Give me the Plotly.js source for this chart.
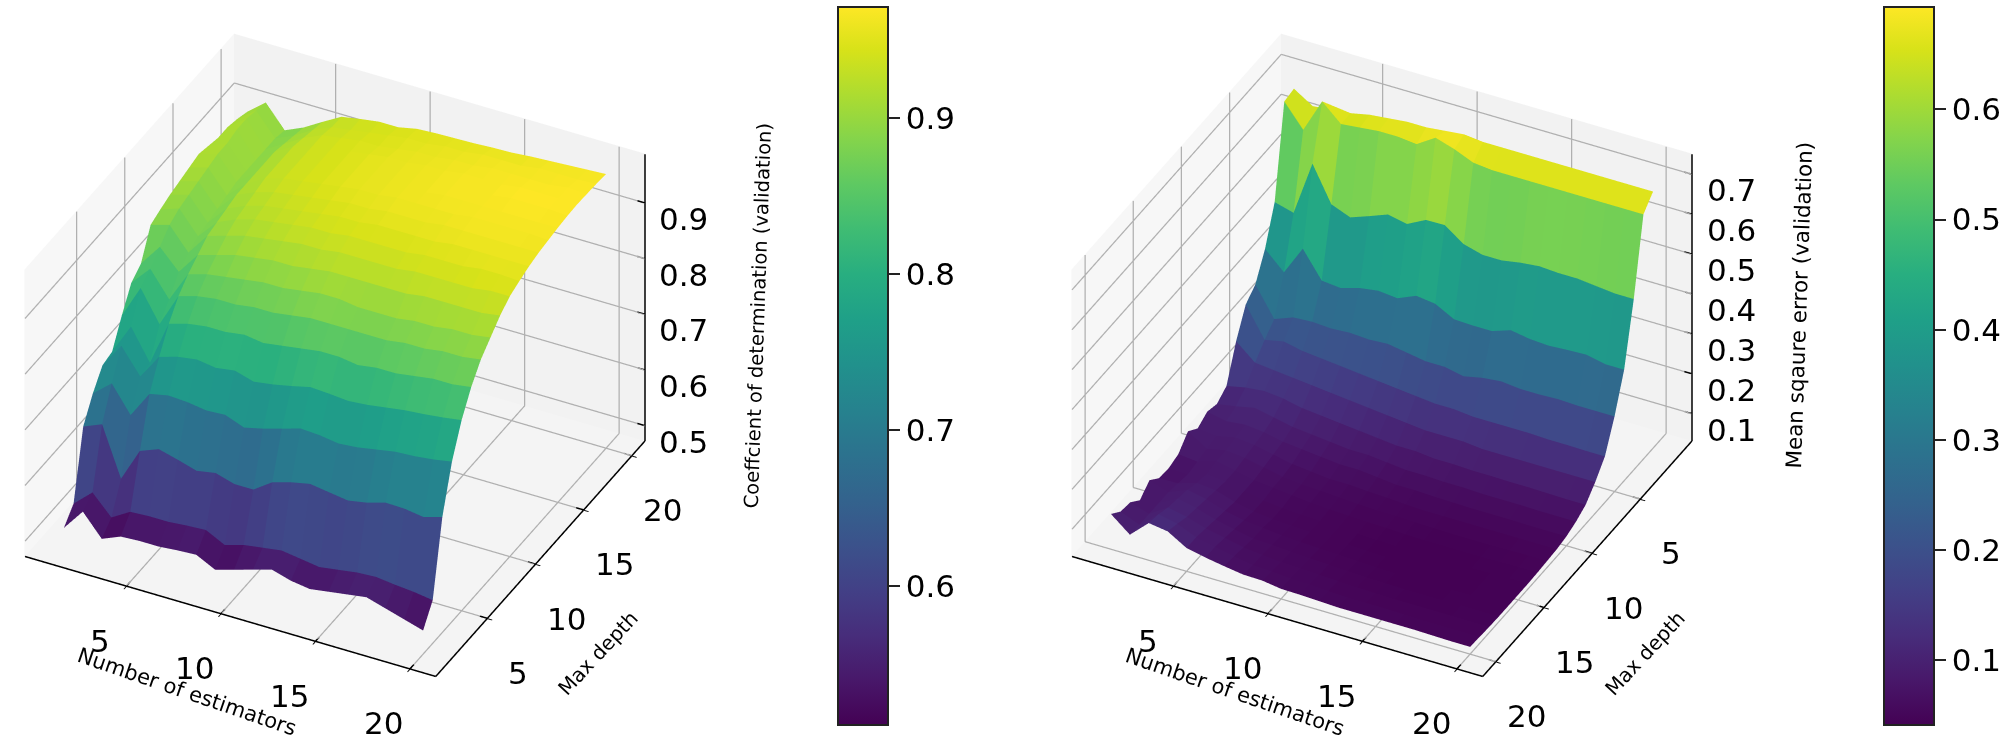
<!DOCTYPE html>
<html><head><meta charset="utf-8">
<script src="https://cdn.plot.ly/plotly-3.0.1.min.js"></script>
<style>html,body{margin:0;padding:0;background:#fff}#c{width:2007px;height:754px}</style>
</head><body><div id="c"></div>
<script>
const estimators=[1,2,3,4,5,6,7,8,9,10,11,12,13,14,15,16,17,18,19,20];
const depths=[1,2,3,4,5,6,7,8,9,10,11,12,13,14,15,16,17,18,19,20];
const tickValues=[5,10,15,20];
// one inner list per number of estimators, values for depth 1..20
const r2Values=[
[.511,.535,.654,.694,.725,.73,.775,.815,.83,.88,.888,.895,.90,.905,.91,.905,.90,.90,.895,.888],
[.55,.565,.668,.722,.77,.785,.835,.85,.87,.89,.90,.905,.91,.915,.92,.92,.925,.925,.92,.915],
[.511,.53,.58,.675,.725,.73,.78,.805,.835,.85,.86,.865,.87,.875,.88,.88,.88,.88,.88,.875],
[.525,.55,.64,.723,.77,.81,.84,.86,.875,.89,.895,.90,.905,.905,.905,.905,.905,.90,.895,.89],
[.527,.552,.653,.73,.78,.82,.85,.87,.885,.90,.91,.915,.92,.925,.925,.925,.925,.92,.915,.91],
[.527,.552,.644,.728,.785,.825,.855,.875,.895,.91,.92,.925,.93,.935,.935,.935,.935,.935,.93,.929],
[.53,.555,.634,.723,.78,.825,.855,.88,.90,.915,.925,.93,.935,.94,.94,.94,.94,.94,.935,.935],
[.532,.557,.64,.725,.785,.83,.86,.885,.905,.92,.93,.935,.94,.945,.945,.945,.945,.945,.94,.94],
[.515,.54,.63,.712,.775,.825,.86,.885,.905,.925,.935,.94,.945,.95,.95,.95,.95,.945,.945,.94],
[.525,.55,.63,.72,.78,.83,.865,.89,.91,.925,.935,.945,.95,.955,.955,.955,.955,.95,.95,.947],
[.535,.555,.653,.73,.787,.835,.87,.895,.915,.93,.94,.945,.95,.955,.955,.955,.955,.955,.95,.949],
[.545,.56,.663,.74,.795,.84,.87,.895,.915,.93,.94,.95,.955,.96,.96,.96,.96,.955,.955,.95],
[.535,.555,.67,.738,.793,.84,.87,.89,.915,.93,.94,.95,.955,.96,.96,.96,.96,.96,.955,.951],
[.53,.55,.665,.733,.79,.835,.87,.89,.915,.93,.94,.95,.955,.96,.965,.965,.965,.96,.96,.953],
[.535,.555,.66,.736,.793,.84,.87,.89,.915,.935,.945,.95,.96,.96,.965,.965,.965,.965,.96,.954],
[.54,.56,.666,.742,.798,.84,.875,.895,.92,.935,.945,.955,.96,.965,.965,.965,.965,.965,.96,.957],
[.545,.562,.676,.748,.803,.845,.875,.895,.92,.935,.945,.955,.96,.965,.965,.97,.97,.965,.965,.959],
[.535,.558,.675,.75,.806,.85,.88,.90,.92,.935,.95,.955,.96,.965,.965,.97,.97,.965,.965,.961],
[.525,.555,.67,.754,.81,.85,.88,.90,.92,.94,.95,.955,.96,.965,.965,.97,.97,.97,.965,.963],
[.515,.55,.68,.76,.815,.855,.885,.905,.925,.94,.948,.955,.96,.963,.966,.968,.969,.968,.967,.965]];
const mseValues=[
[.67,.665,.44,.35,.288,.265,.20,.115,.097,.105,.09,.11,.08,.072,.074,.096,.073,.095,.099,.12],
[.64,.608,.427,.305,.215,.19,.16,.125,.105,.095,.085,.08,.075,.07,.075,.08,.08,.08,.08,.082],
[.645,.693,.564,.378,.233,.20,.155,.13,.115,.10,.095,.09,.09,.085,.09,.10,.105,.11,.12,.125],
[.65,.65,.476,.312,.236,.19,.15,.125,.105,.095,.09,.085,.08,.08,.085,.09,.095,.10,.11,.118],
[.66,.655,.457,.307,.233,.185,.145,.115,.095,.085,.08,.075,.07,.07,.07,.075,.08,.085,.09,.09],
[.665,.66,.474,.321,.236,.18,.14,.11,.09,.08,.07,.065,.065,.06,.06,.065,.07,.075,.08,.08],
[.67,.66,.492,.328,.233,.175,.135,.105,.085,.075,.065,.06,.06,.055,.055,.06,.06,.065,.07,.072],
[.67,.655,.482,.323,.236,.17,.13,.10,.08,.07,.06,.058,.055,.052,.052,.055,.058,.06,.062,.065],
[.675,.685,.506,.343,.228,.165,.125,.095,.08,.07,.06,.055,.052,.05,.05,.052,.055,.056,.06,.064],
[.68,.67,.507,.337,.22,.16,.12,.09,.075,.065,.057,.052,.05,.048,.048,.05,.052,.055,.056,.057],
[.675,.65,.473,.312,.22,.155,.115,.09,.07,.06,.055,.05,.048,.046,.046,.048,.05,.052,.055,.056],
[.675,.645,.46,.31,.21,.155,.115,.085,.07,.06,.052,.05,.047,.044,.044,.046,.048,.05,.052,.054],
[.675,.645,.46,.31,.22,.15,.115,.085,.068,.058,.05,.048,.045,.043,.043,.044,.046,.048,.05,.052],
[.675,.645,.468,.326,.225,.15,.11,.083,.068,.057,.05,.047,.044,.042,.041,.043,.045,.047,.05,.052],
[.675,.645,.473,.318,.22,.15,.11,.083,.066,.056,.05,.046,.044,.042,.041,.042,.044,.046,.05,.052],
[.675,.645,.47,.315,.22,.15,.11,.082,.066,.056,.05,.046,.044,.042,.042,.043,.044,.046,.049,.052],
[.675,.645,.47,.318,.222,.148,.11,.082,.066,.056,.05,.046,.044,.043,.042,.043,.044,.046,.048,.052],
[.675,.645,.465,.32,.22,.148,.11,.081,.065,.055,.05,.047,.045,.044,.044,.044,.045,.046,.048,.051],
[.675,.645,.46,.31,.22,.147,.11,.08,.065,.055,.05,.048,.046,.045,.044,.044,.045,.046,.048,.05],
[.675,.645,.46,.31,.22,.147,.11,.08,.065,.055,.05,.048,.046,.045,.045,.045,.045,.046,.048,.05]];
const r2Title='Coeffcient of determination (validation)';
const mseTitle='Mean sqaure error (validation)';
const xTitle='Number of estimators', yTitle='Max depth';
const r2Ticks=[.5,.6,.7,.8,.9], mseTicks=[.1,.2,.3,.4,.5,.6,.7];
const r2Bar=[.6,.7,.8,.9], mseBar=[.1,.2,.3,.4,.5,.6];
const xyRange=[-.385,21.385], r2Range=[.472,.988], mseRange=[.031,.751];
const FONT='DejaVu Sans';

function meshTrace(values,scene,cmin,cmax,barX,barTicks){
  const x=[],y=[],z=[],i=[],j=[],k=[],c=[];
  const nx=estimators.length,ny=depths.length;
  for(let a=0;a<nx;a++)for(let b=0;b<ny;b++){x.push(estimators[a]);y.push(depths[b]);z.push(values[a][b]);}
  for(let a=0;a<nx-1;a++)for(let b=0;b<ny-1;b++){
    const p=a*ny+b,q=p+1,r=(a+1)*ny+b,s=r+1;
    const m=(z[p]+z[q]+z[r]+z[s])/4;
    i.push(p,q);j.push(r,r);k.push(q,s);c.push(m,m);
  }
  return {type:'mesh3d',scene,x,y,z,i,j,k,intensity:c,intensitymode:'cell',colorscale:'Viridis',cmin,cmax,
    flatshading:true,lighting:{ambient:1,diffuse:0,specular:0,roughness:1,fresnel:0},hoverinfo:'skip',
    colorbar:{x:barX,xanchor:'left',y:.5146,yanchor:'middle',len:718,lenmode:'pixels',thickness:50,thicknessmode:'pixels',
      tickvals:barTicks,ticks:'outside',ticklen:11,tickcolor:'#222',tickwidth:2,outlinecolor:'#222',outlinewidth:2,
      tickfont:{family:FONT,size:31,color:'#000'},xpad:0,ypad:0}};
}
function segments(scene,segs,color,width){
  const x=[],y=[],z=[];
  segs.forEach(s=>{x.push(s[0],s[3],null);y.push(s[1],s[4],null);z.push(s[2],s[5],null);});
  return {type:'scatter3d',scene,mode:'lines',x,y,z,line:{color,width},hoverinfo:'skip',showlegend:false};
}
function frameTraces(scene,yFront,yBack,zR,zTicks){
  const e=.02,ez=(zR[1]-zR[0])*.001;
  const x0=xyRange[0]+e,x1=xyRange[1]-e,z0=zR[0]+ez,z1=zR[1]-ez;
  const yd=yBack>yFront?e:-e, yf=yFront+yd, yb=yBack-yd;
  const g=[];
  tickValues.forEach(t=>{g.push([t,yf,z0,t,yb,z0],[t,yb,z0,t,yb,z1]);});
  tickValues.forEach(t=>{g.push([x1,t,z0,x0,t,z0],[x0,t,z0,x0,t,z1]);});
  zTicks.forEach(t=>{g.push([x0,yf,t,x0,yb,t],[x0,yb,t,x1,yb,t]);});
  const a=[[x0,yf,z0,x1,yf,z0],[x1,yf,z0,x1,yb,z0],[x1,yb,z0,x1,yb,z1]];
  tickValues.forEach(t=>{a.push([t,yf,z0,t,yf+(yd>0?.4:-.4),z0]);});
  tickValues.forEach(t=>{a.push([x1,t,z0,x1-.4,t,z0]);});
  zTicks.forEach(t=>{a.push([x1,yb,t,x1-.4,yb,t]);});
  return [segments(scene,g,'#b0b0b0',2.5),segments(scene,a,'#000',3)];
}
function ax(range,ticks,color,extra){
  return Object.assign({title:{text:''},range,autorange:false,tickmode:'array',tickvals:ticks,showticklabels:false,
    showbackground:true,backgroundcolor:color,showgrid:false,
    showline:false,ticks:'outside',ticklen:5,tickcolor:'#000',tickwidth:2,zeroline:false,showspikes:false},extra||{});
}
function label(x,y,z,text,xshift,yshift,size,angle){
  return {x,y,z,text:String(text),showarrow:false,xshift,yshift,textangle:angle||0,xanchor:'center',yanchor:'middle',font:{family:FONT,size,color:'#000'}};
}
function annots(yFront,yBack,zRange,zTicks,zTitle,titleX,titleY,titleSize){
  const out=[], xMax=xyRange[1], z0=zRange[0];
  tickValues.forEach(t=>out.push(label(t,yFront,z0,t,-26,-54,31)));
  tickValues.forEach(t=>out.push(label(xMax,t,z0,t,30,-54,31)));
  zTicks.forEach(t=>out.push(label(xMax,yBack,t,t.toFixed(1),38,-16,31)));
  out.push(label(10.5,yFront,z0,xTitle,-43,-75,21,19));
  out.push(label(xMax,10.5,z0,yTitle,57,-94,20,-47));
  out.push(label(xMax,yBack,(zRange[0]+zRange[1])/2,zTitle,titleX,titleY,titleSize,-88));
  return out;
}
const eye={x:1.242,y:-2.438,z:1.845};
const camCenter={x:0,y:0,z:-.07};
const projection={type:'orthographic'};
const data=[
 meshTrace(r2Values,'scene',.511,.971,838/2007,r2Bar),
 meshTrace(mseValues,'scene2',.041,.693,1884/2007,mseBar),
 ...frameTraces('scene',xyRange[0],xyRange[1],r2Range,r2Ticks),
 ...frameTraces('scene2',xyRange[1],xyRange[0],mseRange,mseTicks)];
const aspect={x:1.225,y:1.225,z:.93};
const noZ={ticks:''};
const layout={width:2007,height:754,margin:{l:0,r:0,t:0,b:0},paper_bgcolor:'#fff',showlegend:false,
 scene:{domain:{x:[0,.334],y:[0,1]},aspectmode:'manual',aspectratio:aspect,camera:{eye,center:camCenter,projection},
   xaxis:ax(xyRange,tickValues,'#f7f7f7'),yaxis:ax(xyRange,tickValues,'#f2f2f2'),zaxis:ax(r2Range,r2Ticks,'#f4f4f4',noZ),
   annotations:annots(xyRange[0],xyRange[1],r2Range,r2Ticks,r2Title,112,-18,19.5)},
 scene2:{domain:{x:[.5218,.8558],y:[0,1]},aspectmode:'manual',aspectratio:aspect,camera:{eye,center:camCenter,projection},
   xaxis:ax(xyRange,tickValues,'#f7f7f7'),yaxis:ax(xyRange.slice().reverse(),tickValues,'#f2f2f2'),zaxis:ax(mseRange,mseTicks,'#f4f4f4',noZ),
   annotations:annots(xyRange[1],xyRange[0],mseRange,mseTicks,mseTitle,106,-8,21.5)}};
Plotly.newPlot('c',data,layout,{displayModeBar:false});
</script></body></html>
